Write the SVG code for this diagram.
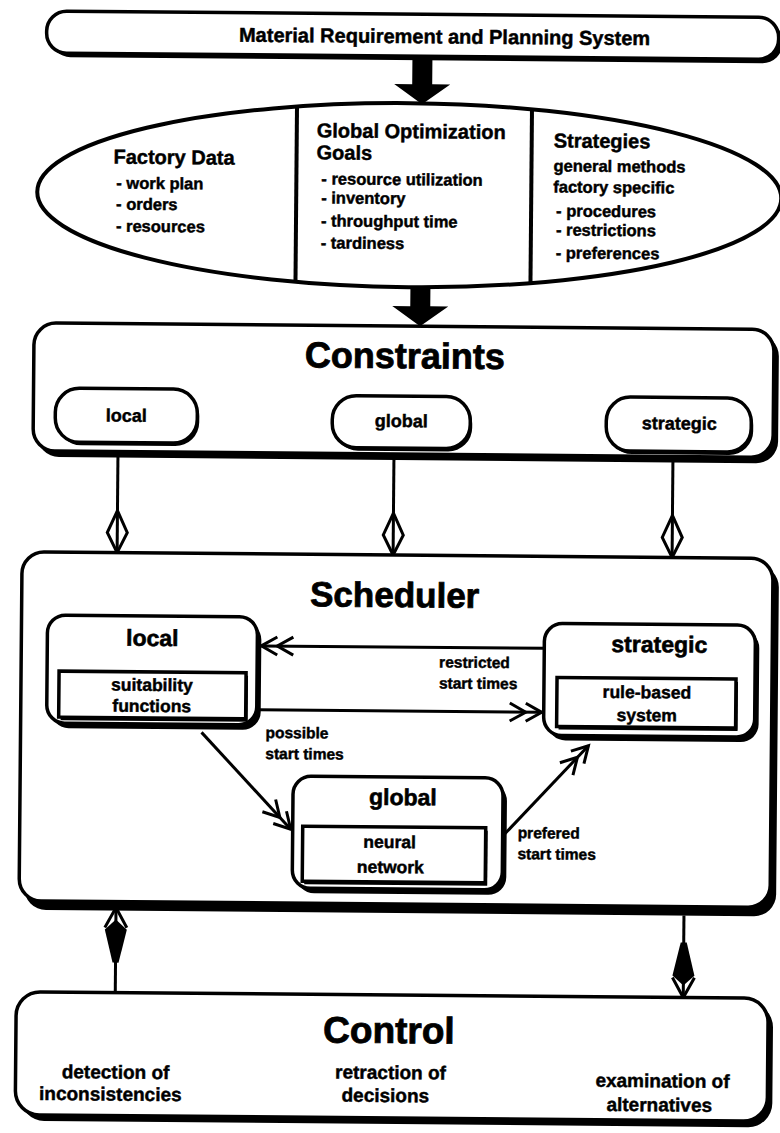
<svg xmlns="http://www.w3.org/2000/svg" width="780" height="1133" viewBox="0 0 780 1133">
<defs>
<style>
text { font-family: "Liberation Sans", Arial, Helvetica, sans-serif; font-weight: bold; fill: #000; stroke: #000; stroke-width: 0.45; }
.box { fill: #fff; stroke: #000; stroke-width: 3.5; }
.shd { fill: #000; }
.inner { fill: #fff; stroke: #000; stroke-width: 3.5; }
.title { font-size: 36px; text-anchor: middle; stroke-width: 0.8; }
.hd { font-size: 20px; }
.it { font-size: 16.5px; }
.sub { font-size: 23px; text-anchor: middle; stroke-width: 0.6; }
.in { font-size: 17.5px; text-anchor: middle; }
.lbl { font-size: 15.5px; }
.pill { font-size: 18px; text-anchor: middle; }
.ctl { font-size: 19px; text-anchor: middle; }
.ln { stroke: #000; stroke-width: 3; fill: none; }
.big { fill: #000; }
</style>
<marker id="dchev" markerUnits="userSpaceOnUse" orient="auto" refX="0" refY="0" markerWidth="40" markerHeight="24" overflow="visible">
<path d="M-16,-9 L0,0 L-16,9 M-32,-9 L-16,0 L-32,9" fill="none" stroke="#000" stroke-width="3"/>
</marker>
<marker id="kite" markerUnits="userSpaceOnUse" orient="auto" refX="0" refY="0" markerWidth="44" markerHeight="24" overflow="visible">
<path d="M0,0 L-20,-10 L-42,0 L-20,10 Z" fill="none" stroke="#000" stroke-width="3"/>
</marker>
<marker id="spear" markerUnits="userSpaceOnUse" orient="auto" refX="0" refY="0" markerWidth="58" markerHeight="28" overflow="visible">
<path d="M-12,0 L-22,-11 L-55,-3 L-55,3 L-22,11 Z" fill="#000"/>
<path d="M-20,-11 L0,0 L-20,11" fill="none" stroke="#000" stroke-width="3"/>
</marker>
</defs>
<rect width="780" height="1133" fill="#fff"/>
<g transform="rotate(0.5 390 566)">

<g id="connectors">
<path class="big" d="M408,59 h20 v25 h18 l-28,20 l-28,-20 h18 z"/>
<path class="big" d="M408,285 h20 v21 h18 l-28,20 l-28,-20 h18 z"/>
<line class="ln" x1="117" y1="458" x2="117" y2="555" marker-end="url(#kite)"/>
<line class="ln" x1="393" y1="459" x2="393" y2="555" marker-end="url(#kite)"/>
<line class="ln" x1="672" y1="459" x2="672" y2="555" marker-end="url(#kite)"/>
<line class="ln" x1="119" y1="995" x2="119" y2="910" marker-end="url(#spear)"/>
<line class="ln" x1="687" y1="913" x2="687" y2="995" marker-end="url(#spear)"/>
</g>

<g id="mrp">
<rect class="shd" x="46" y="18" width="732" height="42" rx="20"/>
<rect class="box" x="42" y="14" width="732" height="42" rx="20"/>
<text class="hd" x="440" y="43" text-anchor="middle">Material Requirement and Planning System</text>
</g>

<g id="inputs">
<ellipse cx="406" cy="195" rx="372" ry="92" fill="#fff" stroke="#000" stroke-width="4"/>
<line x1="293" y1="107" x2="293" y2="283" stroke="#000" stroke-width="4"/>
<line x1="528" y1="108" x2="528" y2="282" stroke="#000" stroke-width="4"/>
<text class="hd" x="110" y="166">Factory Data</text>
<text class="it" x="113" y="191">- work plan</text>
<text class="it" x="113" y="212">- orders</text>
<text class="it" x="113" y="234">- resources</text>
<text class="hd" x="313" y="138">Global Optimization</text>
<text class="hd" x="313" y="160">Goals</text>
<text class="it" x="318" y="185">- resource utilization</text>
<text class="it" x="318" y="204">- inventory</text>
<text class="it" x="318" y="227">- throughput time</text>
<text class="it" x="318" y="249">- tardiness</text>
<text class="hd" x="550" y="146">Strategies</text>
<text class="it" x="550" y="170">general methods</text>
<text class="it" x="550" y="191">factory specific</text>
<text class="it" x="553" y="215">- procedures</text>
<text class="it" x="553" y="234">- restrictions</text>
<text class="it" x="553" y="257">- preferences</text>
</g>

<g id="constraints">
<rect class="shd" x="36" y="331" width="741" height="129" rx="22"/>
<rect class="box" x="32" y="326" width="740" height="128" rx="22"/>
<text class="title" x="403" y="368">Constraints</text>
<g id="c-local">
<rect class="shd" x="56" y="394" width="142" height="54" rx="24"/>
<rect class="box" x="54" y="391" width="142" height="54" rx="24"/>
<text class="pill" x="125" y="424">local</text>
</g>
<g id="c-global">
<rect class="shd" x="333" y="399" width="138" height="52" rx="24"/>
<rect class="box" x="331" y="396" width="138" height="52" rx="24"/>
<text class="pill" x="400" y="427">global</text>
</g>
<g id="c-strategic">
<rect class="shd" x="607" y="398" width="145" height="54" rx="24"/>
<rect class="box" x="605" y="395" width="145" height="54" rx="24"/>
<text class="pill" x="678" y="427">strategic</text>
</g>
</g>

<g id="scheduler">
<rect class="shd" x="27" y="562" width="752" height="351" rx="22"/>
<rect class="box" x="22" y="555" width="751" height="349" rx="22"/>
<text class="title" x="395" y="607" style="font-size:35px">Scheduler</text>
</g>

<g id="s-local">
<rect class="shd" x="52" y="623" width="210" height="108" rx="18"/>
<rect class="box" x="48" y="618" width="210" height="108" rx="18"/>
<text class="sub" x="153" y="648">local</text>
<rect class="shd" x="62" y="677" width="187" height="46"/>
<rect class="inner" x="60" y="674" width="187" height="46"/>
<text class="in" x="153" y="693">suitability</text>
<text class="in" x="153" y="714">functions</text>
</g>

<g id="s-strategic">
<rect class="shd" x="549" y="627" width="211" height="112" rx="18"/>
<rect class="box" x="545" y="622" width="211" height="112" rx="18"/>
<text class="sub" x="660" y="650">strategic</text>
<rect class="shd" x="560" y="679" width="179" height="49"/>
<rect class="inner" x="558" y="676" width="179" height="49"/>
<text class="in" x="648" y="696">rule-based</text>
<text class="in" x="648" y="719">system</text>
</g>

<g id="s-global">
<rect class="shd" x="299" y="782" width="210" height="112" rx="18"/>
<rect class="box" x="295" y="777" width="210" height="112" rx="18"/>
<text class="sub" x="405" y="805">global</text>
<rect class="shd" x="307" y="830" width="183" height="55"/>
<rect class="inner" x="305" y="827" width="183" height="55"/>
<text class="in" x="392" y="848">neural</text>
<text class="in" x="393" y="873">network</text>
</g>

<g id="scheduler-connectors">
<line class="ln" x1="545" y1="647" x2="262" y2="647" marker-end="url(#dchev)"/>
<line class="ln" x1="260" y1="711" x2="543" y2="711" marker-end="url(#dchev)"/>
<line class="ln" x1="203" y1="734" x2="293" y2="830" marker-end="url(#dchev)"/>
<line class="ln" x1="507" y1="833" x2="590" y2="744" marker-end="url(#dchev)"/>
<text class="lbl" x="440" y="667">restricted</text>
<text class="lbl" x="440" y="688">start times</text>
<text class="lbl" x="267" y="739">possible</text>
<text class="lbl" x="267" y="760">start times</text>
<text class="lbl" x="520" y="837">prefered</text>
<text class="lbl" x="520" y="858">start times</text>
</g>

<g id="control">
<rect class="shd" x="25" y="1000" width="752" height="124" rx="24"/>
<rect class="box" x="20" y="995" width="752" height="123" rx="24"/>
<text class="title" x="393" y="1043" style="font-size:37px">Control</text>
<text class="ctl" x="120" y="1081">detection of</text>
<text class="ctl" x="115" y="1103">inconsistencies</text>
<text class="ctl" x="395" y="1079">retraction of</text>
<text class="ctl" x="390" y="1102">decisions</text>
<text class="ctl" x="667" y="1085">examination of</text>
<text class="ctl" x="664" y="1109">alternatives</text>
</g>

</g>
</svg>
